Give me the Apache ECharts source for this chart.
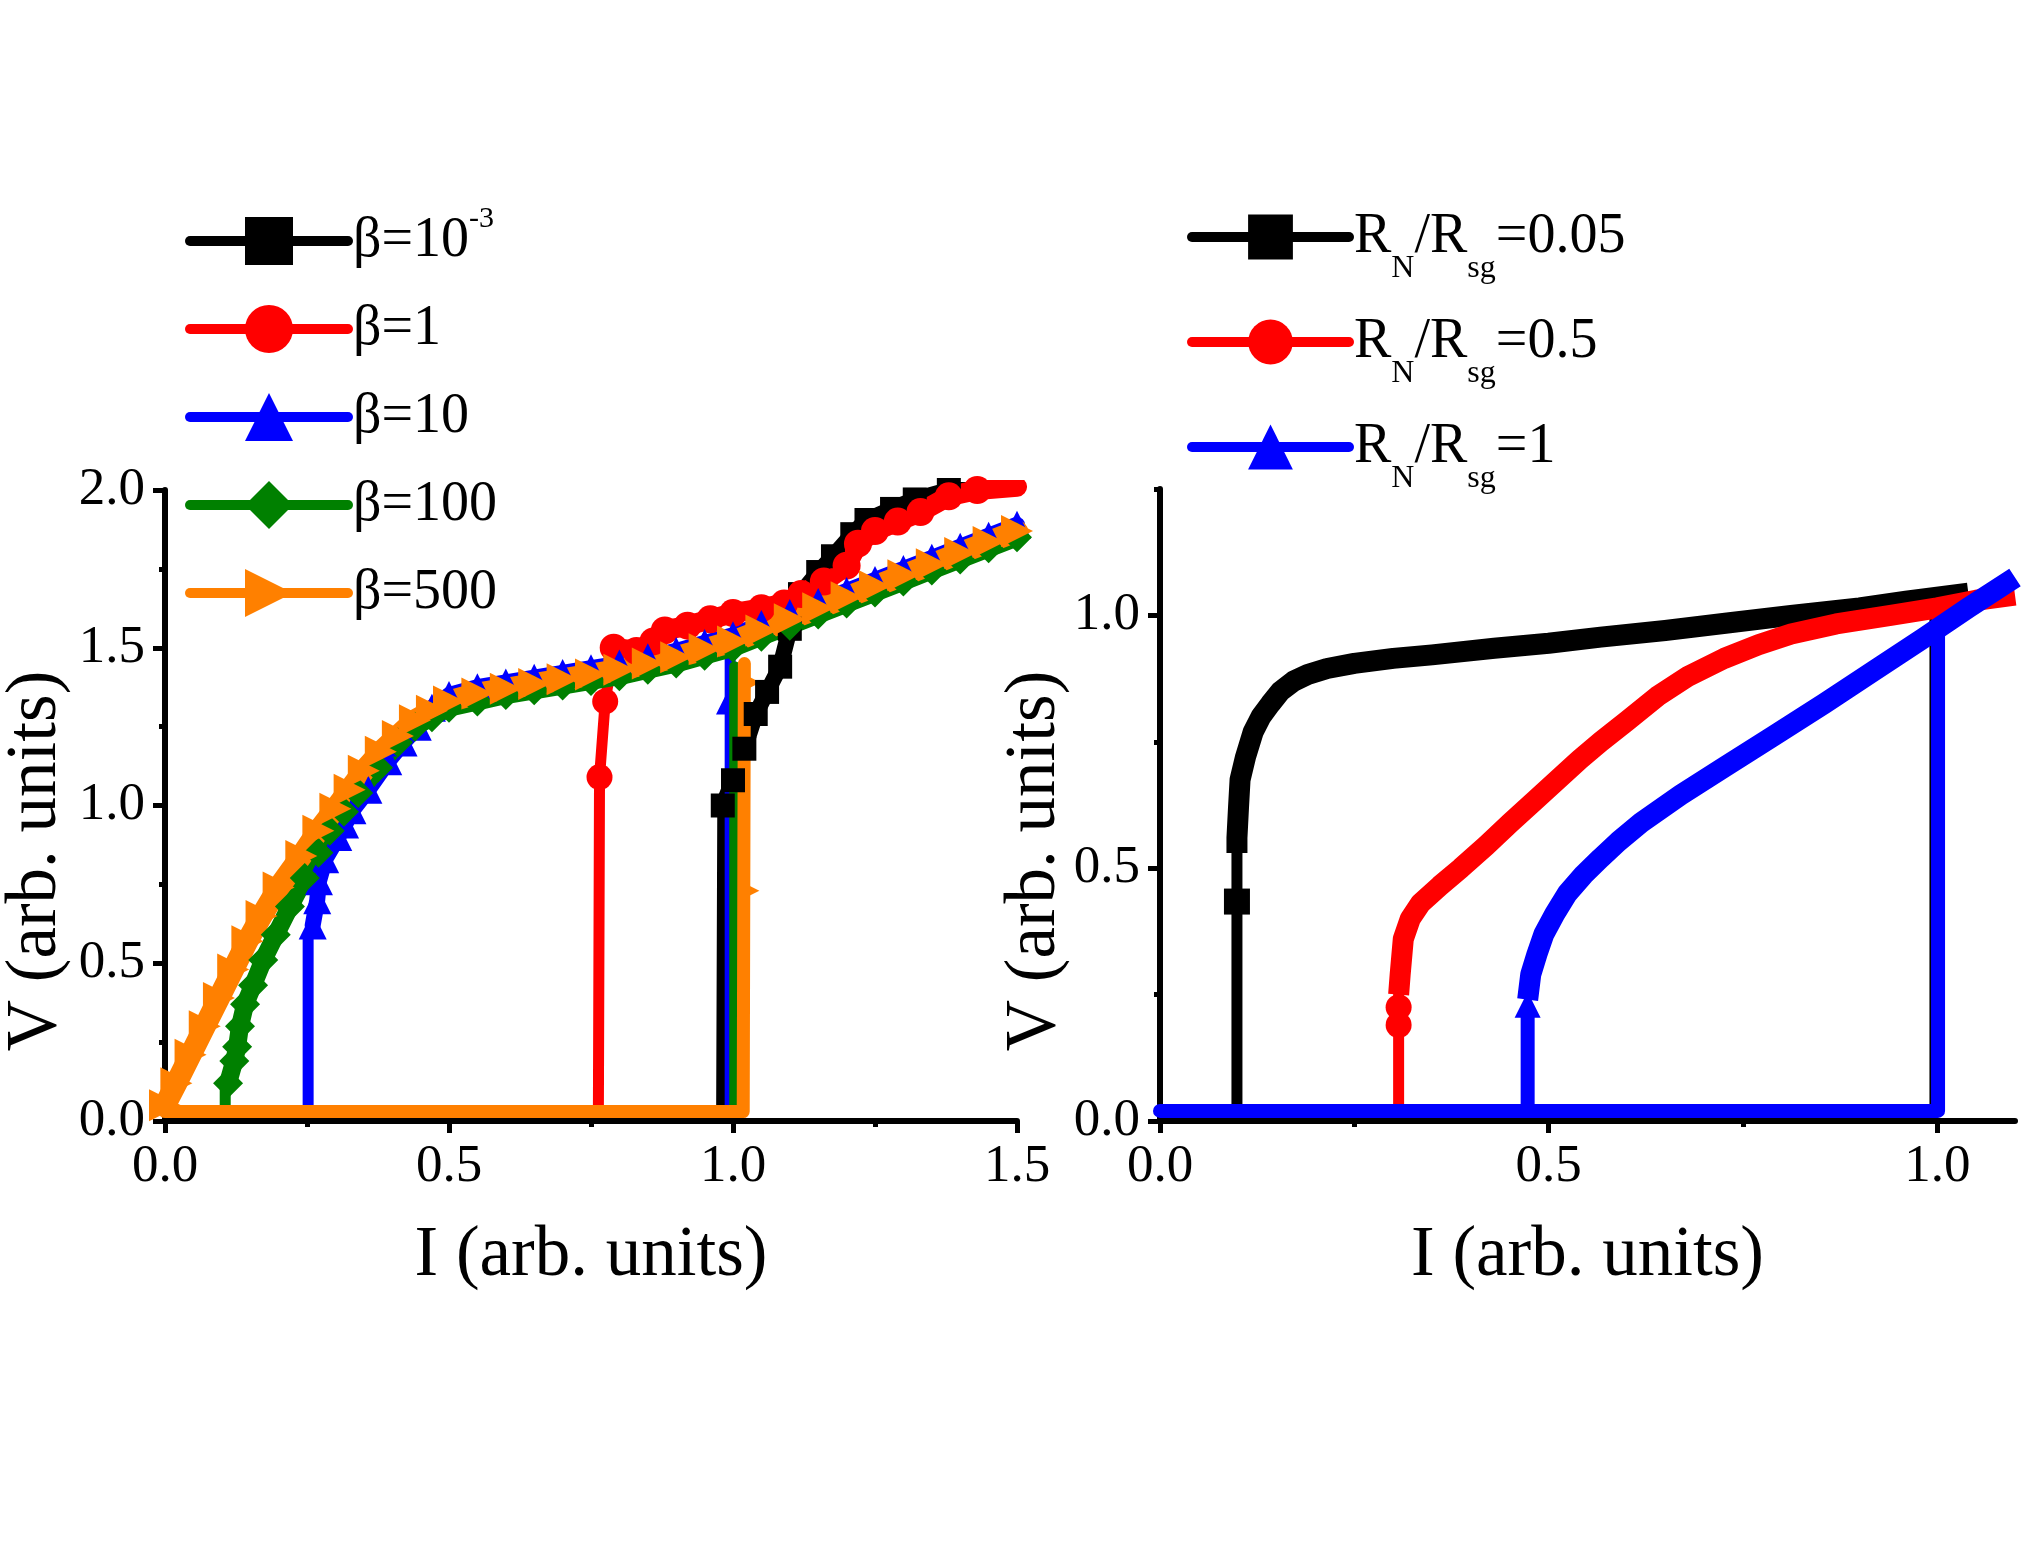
<!DOCTYPE html>
<html>
<head>
<meta charset="utf-8">
<script src="https://cdn.jsdelivr.net/npm/echarts@6/dist/echarts.min.js"></script>
<style>
  html, body { margin: 0; padding: 0; background: #fff; }
  #chart { width: 2031px; height: 1559px; }
</style>
</head>
<body>
<div id="chart"></div>
<script>
const FONT = "'Liberation Serif', 'Times New Roman', serif";

// ---- left panel: I-V for several beta (I, V) ----
const leftNames = ['β=10^-3', 'β=1', 'β=10', 'β=100', 'β=500'];
const leftLegendText = ['{m|β=10}{sup|-3}', '{m|β=1}{sup| }', '{m|β=10}{sup| }', '{m|β=100}{sup| }', '{m|β=500}{sup| }'];
const leftColors = ['#000000', '#ff0000', '#0000ff', '#008000', '#ff8000'];
const leftSymbols = ['rect', 'circle', 'triangle', 'diamond', 'triangle'];
const leftRotate = [0, 0, 0, 0, -90];

const b0001Jump = [[0, 0.03], [0.98, 0.03], [0.982, 1.0]];
const b0001Band = [[0.982, 1.0], [1.0, 1.08], [1.02, 1.18], [1.04, 1.29], [1.06, 1.36], [1.083, 1.44],
  [1.1, 1.56], [1.118, 1.67], [1.15, 1.74], [1.176, 1.79], [1.21, 1.86], [1.235, 1.905], [1.28, 1.94],
  [1.32, 1.97], [1.38, 2.0], [1.45, 2.03], [1.52, 2.06]];
const b0001Marks = [];

const b1Jump = [[0, 0.03], [0.763, 0.03], [0.765, 1.09], [0.775, 1.33], [0.79, 1.50]];
const b1Band = [[0.79, 1.50], [0.83, 1.49], [0.86, 1.52], [0.88, 1.555], [0.92, 1.57], [0.96, 1.59],
  [1.0, 1.61], [1.05, 1.625], [1.09, 1.64], [1.12, 1.67], [1.16, 1.71], [1.2, 1.76], [1.22, 1.83],
  [1.25, 1.87], [1.29, 1.9], [1.33, 1.93], [1.38, 1.98], [1.43, 2.0], [1.5, 2.01]];
const b1Marks = [[0.765, 1.09], [0.775, 1.33]];

const b10Jump = [[0, 0.03], [0.252, 0.03], [0.252, 0.575], [0.252, 0.03], [0.995, 0.03], [0.995, 1.47]];
const b10Band = [[0.26, 0.62], [0.268, 0.70], [0.271, 0.76], [0.282, 0.83], [0.305, 0.90], [0.317, 0.94],
  [0.33, 0.985], [0.358, 1.05], [0.393, 1.14], [0.42, 1.20], [0.445, 1.25], [0.47, 1.31], [0.5, 1.35],
  [0.55, 1.375], [0.6, 1.39], [0.65, 1.405], [0.7, 1.42], [0.75, 1.435], [0.8, 1.45], [0.85, 1.47],
  [0.9, 1.49], [0.95, 1.515], [1.0, 1.54], [1.05, 1.575], [1.1, 1.61], [1.15, 1.645], [1.2, 1.68],
  [1.25, 1.715], [1.3, 1.75], [1.35, 1.785], [1.4, 1.82], [1.45, 1.855], [1.5, 1.89]];
const b10Marks = [[0.993, 1.33]];

const b100Jump = [[0, 0.03], [0.106, 0.03], [0.106, 0.10], [0.106, 0.03], [1.003, 0.03], [1.003, 1.44]];
const b100Band = [[0.111, 0.12], [0.122, 0.19], [0.127, 0.235], [0.132, 0.30], [0.141, 0.37], [0.155, 0.43],
  [0.173, 0.51], [0.195, 0.59], [0.22, 0.68], [0.246, 0.77], [0.27, 0.85], [0.29, 0.92], [0.315, 0.98],
  [0.34, 1.04], [0.375, 1.12], [0.41, 1.20], [0.44, 1.25], [0.47, 1.28], [0.5, 1.31], [0.55, 1.33],
  [0.6, 1.35], [0.65, 1.365], [0.7, 1.38], [0.75, 1.395], [0.8, 1.41], [0.85, 1.43], [0.9, 1.45],
  [0.95, 1.475], [1.0, 1.50], [1.05, 1.535], [1.1, 1.57], [1.15, 1.605], [1.2, 1.64], [1.25, 1.675],
  [1.3, 1.71], [1.35, 1.745], [1.4, 1.78], [1.45, 1.815], [1.5, 1.85]];
const b100Marks = [[1.0, 0.52]];

const b500Jump = [[0, 0.03], [1.018, 0.03], [1.02, 1.45]];
const b500Band = [[0, 0.05], [0.02, 0.12], [0.045, 0.21], [0.07, 0.30], [0.095, 0.39], [0.12, 0.48],
  [0.145, 0.57], [0.17, 0.65], [0.2, 0.74], [0.24, 0.84], [0.27, 0.92], [0.3, 0.99], [0.325, 1.05],
  [0.35, 1.11], [0.38, 1.17], [0.41, 1.22], [0.44, 1.27], [0.47, 1.30], [0.5, 1.33], [0.55, 1.355],
  [0.6, 1.37], [0.65, 1.385], [0.7, 1.40], [0.75, 1.415], [0.8, 1.43], [0.85, 1.45], [0.9, 1.47],
  [0.95, 1.495], [1.0, 1.52], [1.05, 1.555], [1.1, 1.59], [1.15, 1.625], [1.2, 1.66], [1.25, 1.695],
  [1.3, 1.73], [1.35, 1.765], [1.4, 1.80], [1.45, 1.835], [1.5, 1.87]];
const b500Marks = [[1.02, 0.73], [1.022, 1.39]];

// ---- right panel: I-V for several RN/Rsg ----
const rightNames = ['RN/Rsg=0.05', 'RN/Rsg=0.5', 'RN/Rsg=1'];
const rightLegendText = ['{m|R}{sub|N}{m|/R}{sub|sg}{m|=0.05}', '{m|R}{sub|N}{m|/R}{sub|sg}{m|=0.5}',
  '{m|R}{sub|N}{m|/R}{sub|sg}{m|=1}'];
const rightColors = ['#000000', '#ff0000', '#0000ff'];
const rightSymbols = ['rect', 'circle', 'triangle'];

const rn005Jump = [[0, 0.02], [0.099, 0.02], [0.099, 0.53], [0.099, 0.02], [0.997, 0.02], [0.997, 1.04]];
const rn005Band = [[0.099, 0.53], [0.099, 0.56], [0.101, 0.62], [0.103, 0.675], [0.11, 0.72], [0.12, 0.77],
  [0.13, 0.80], [0.142, 0.825], [0.155, 0.85], [0.172, 0.87], [0.19, 0.883], [0.215, 0.895], [0.25, 0.905],
  [0.3, 0.915], [0.35, 0.922], [0.43, 0.935], [0.5, 0.945], [0.567, 0.957], [0.65, 0.97], [0.73, 0.985],
  [0.812, 1.0], [0.9, 1.015], [0.96, 1.028], [1.04, 1.044]];
const rn005Marks = [[0.099, 0.434]];

const rn05Jump = [[0, 0.02], [0.307, 0.02], [0.307, 0.25], [0.307, 0.02], [1.0, 0.02], [1.0, 1.01]];
const rn05Band = [[0.307, 0.25], [0.309, 0.29], [0.313, 0.36], [0.322, 0.40], [0.335, 0.43], [0.36, 0.465],
  [0.387, 0.50], [0.42, 0.545], [0.451, 0.59], [0.483, 0.635], [0.515, 0.68], [0.54, 0.715], [0.567, 0.75],
  [0.6, 0.79], [0.64, 0.84], [0.68, 0.88], [0.726, 0.915], [0.77, 0.942], [0.812, 0.963], [0.87, 0.983],
  [0.94, 1.0], [1.0, 1.015], [1.05, 1.03], [1.1, 1.04]];
const rn05Marks = [[0.307, 0.19], [0.307, 0.225]];

const rn1Jump = [[0, 0.02], [0.473, 0.02], [0.473, 0.21], [0.473, 0.02], [1.001, 0.02], [1.001, 0.97]];
const rn1Band = [[0.473, 0.24], [0.477, 0.29], [0.485, 0.33], [0.494, 0.37], [0.508, 0.41], [0.524, 0.45],
  [0.545, 0.487], [0.567, 0.52], [0.59, 0.553], [0.619, 0.59], [0.67, 0.645], [0.726, 0.70], [0.79, 0.762],
  [0.855, 0.826], [0.92, 0.892], [0.983, 0.956], [1.04, 1.015], [1.1, 1.075]];
const rn1Marks = [[0.473, 0.23]];

const leftTicks = { x: [0, 0.5, 1.0, 1.5], y: [0, 0.5, 1.0, 1.5, 2.0] };
const rightTicks = { x: [0, 0.5, 1.0], y: [0, 0.5, 1.0] };
const rightMinor = { x: [0.25, 0.75], y: [0.25, 0.75, 1.25] };

const leftCurves = [
  [b0001Band, b0001Jump, b0001Marks],
  [b1Band, b1Jump, b1Marks],
  [b10Band, b10Jump, b10Marks],
  [b100Band, b100Jump, b100Marks],
  [b500Band, b500Jump, b500Marks]
];
const rightCurves = [
  [rn005Band, rn005Jump, rn005Marks],
  [rn05Band, rn05Jump, rn05Marks],
  [rn1Band, rn1Jump, rn1Marks]
];

// style per left curve: band width, marker size
const leftBandWidth = [16, 20, 16, 18, 22];
const leftMarkSize = [24, 28, 28, 30, 32];

const series = [];

leftCurves.forEach(function (c, i) {
  const col = leftColors[i];
  series.push({
    type: 'line', name: leftNames[i], xAxisIndex: 0, yAxisIndex: 0, data: c[0],
    color: col, symbol: leftSymbols[i], symbolSize: leftMarkSize[i], symbolRotate: leftRotate[i],
    showSymbol: true, itemStyle: { color: col },
    lineStyle: { color: col, width: leftBandWidth[i], cap: 'round', join: 'round' },
    silent: true, animation: false
  });
  series.push({
    type: 'line', name: leftNames[i], xAxisIndex: 0, yAxisIndex: 0, data: c[1],
    color: col, symbol: 'none', itemStyle: { color: col },
    lineStyle: { color: col, width: i === 4 ? 13 : 11, cap: 'round', join: 'round' },
    silent: true, animation: false
  });
  series.push({
    type: 'scatter', name: leftNames[i], xAxisIndex: 0, yAxisIndex: 0, data: c[2],
    symbol: leftSymbols[i], symbolSize: leftMarkSize[i] - 2, symbolRotate: leftRotate[i],
    itemStyle: { color: col, opacity: 1 }, silent: true, animation: false
  });
});

rightCurves.forEach(function (c, i) {
  const col = rightColors[i];
  series.push({
    type: 'line', name: rightNames[i], xAxisIndex: 1, yAxisIndex: 1, data: c[0],
    color: col, symbol: rightSymbols[i], showSymbol: false, itemStyle: { color: col },
    lineStyle: { color: col, width: 21, cap: 'butt', join: 'round' },
    silent: true, animation: false
  });
  series.push({
    type: 'line', name: rightNames[i], xAxisIndex: 1, yAxisIndex: 1, data: c[1],
    color: col, symbol: 'none', itemStyle: { color: col },
    lineStyle: { color: col, width: i === 2 ? 14 : 11, cap: 'round', join: 'round' },
    silent: true, animation: false
  });
  series.push({
    type: 'scatter', name: rightNames[i], xAxisIndex: 1, yAxisIndex: 1, data: c[2],
    symbol: rightSymbols[i], symbolSize: 26, itemStyle: { color: col, opacity: 1 },
    silent: true, animation: false
  });
});

const lbl = { color: '#000', fontFamily: FONT, fontSize: 53, margin: 20, formatter: v => v.toFixed(1) };
const axLine = { show: true, onZero: false, lineStyle: { color: '#000', width: 6 } };
const tick = { show: true, length: 12, lineStyle: { color: '#000', width: 5 } };
const minor = { show: true, splitNumber: 2, length: 6, lineStyle: { color: '#000', width: 5 } };
const titleStyle = { color: '#000', fontFamily: FONT, fontSize: 71 };

const option = {
  backgroundColor: '#fff',
  animation: false,
  grid: [
    { left: 165, top: 490, width: 852, height: 631, outerBoundsMode: 'none' },
    { left: 1160, top: 489, width: 855, height: 632, outerBoundsMode: 'none' }
  ],
  xAxis: [
    {
      gridIndex: 0, type: 'value', min: 0, max: 1.5, interval: 0.5,
      name: 'I (arb. units)', nameLocation: 'middle', nameGap: 100, nameTextStyle: titleStyle,
      axisLine: axLine, axisTick: Object.assign({ customValues: leftTicks.x }, tick), minorTick: minor,
      axisLabel: Object.assign({ customValues: leftTicks.x }, lbl), splitLine: { show: false }
    },
    {
      gridIndex: 1, type: 'value', min: 0, max: 1.1, interval: 0.5,
      name: 'I (arb. units)', nameLocation: 'middle', nameGap: 100, nameTextStyle: titleStyle,
      axisLine: axLine, axisTick: Object.assign({ customValues: rightTicks.x }, tick),
      axisLabel: Object.assign({ customValues: rightTicks.x }, lbl), splitLine: { show: false }
    },
    {
      gridIndex: 1, type: 'value', min: 0, max: 1.1, position: 'bottom',
      axisLine: { show: false }, axisLabel: { show: false }, splitLine: { show: false },
      axisTick: { show: true, customValues: rightMinor.x, length: 6, lineStyle: { color: '#000', width: 5 } }
    }
  ],
  yAxis: [
    {
      gridIndex: 0, type: 'value', min: 0, max: 2.0, interval: 0.5,
      axisLine: axLine, axisTick: Object.assign({ customValues: leftTicks.y }, tick), minorTick: minor,
      axisLabel: Object.assign({ customValues: leftTicks.y }, lbl), splitLine: { show: false }
    },
    {
      gridIndex: 1, type: 'value', min: 0, max: 1.25, interval: 0.5,
      axisLine: axLine, axisTick: Object.assign({ customValues: rightTicks.y }, tick),
      axisLabel: Object.assign({ customValues: rightTicks.y }, lbl), splitLine: { show: false }
    },
    {
      gridIndex: 1, type: 'value', min: 0, max: 1.25, position: 'left',
      axisLine: { show: false }, axisLabel: { show: false }, splitLine: { show: false },
      axisTick: { show: true, customValues: rightMinor.y, length: 6, lineStyle: { color: '#000', width: 5 } }
    }
  ],
  legend: [
    {
      data: leftNames, orient: 'vertical', left: 185, top: 204, padding: 0,
      itemWidth: 158, itemHeight: 60, itemGap: 14, itemTextGap: 12, selectedMode: false,
      lineStyle: { width: 10, cap: 'round' },
      formatter: name => leftLegendText[leftNames.indexOf(name)],
      textStyle: {
        color: '#000', fontFamily: FONT, fontSize: 56,
        rich: {
          m: { fontFamily: FONT, fontSize: 56, lineHeight: 74, color: '#000' },
          sup: { fontFamily: FONT, fontSize: 30, lineHeight: 30, padding: [0, 0, 44, 0], color: '#000' }
        }
      }
    },
    {
      data: rightNames, orient: 'vertical', left: 1187, top: 189, padding: 0,
      itemWidth: 157, itemHeight: 56, itemGap: 9, itemTextGap: 14, selectedMode: false,
      lineStyle: { width: 10, cap: 'round' },
      formatter: name => rightLegendText[rightNames.indexOf(name)],
      textStyle: {
        color: '#000', fontFamily: FONT, fontSize: 56,
        rich: {
          m: { fontFamily: FONT, fontSize: 56, lineHeight: 60, color: '#000' },
          sub: { fontFamily: FONT, fontSize: 32, lineHeight: 32, padding: [64, 0, 0, 0], color: '#000' }
        }
      }
    }
  ],
  graphic: [
    {
      type: 'text', x: 36, y: 861, rotation: Math.PI / 2, silent: true,
      style: { text: 'V (arb. units)', fill: '#000', fontFamily: FONT, fontSize: 71, align: 'center', verticalAlign: 'middle' }
    },
    {
      type: 'text', x: 1035, y: 861, rotation: Math.PI / 2, silent: true,
      style: { text: 'V (arb. units)', fill: '#000', fontFamily: FONT, fontSize: 71, align: 'center', verticalAlign: 'middle' }
    }
  ],
  series: series
};

const chart = echarts.init(document.getElementById('chart'));
chart.setOption(option);
</script>
</body>
</html>
